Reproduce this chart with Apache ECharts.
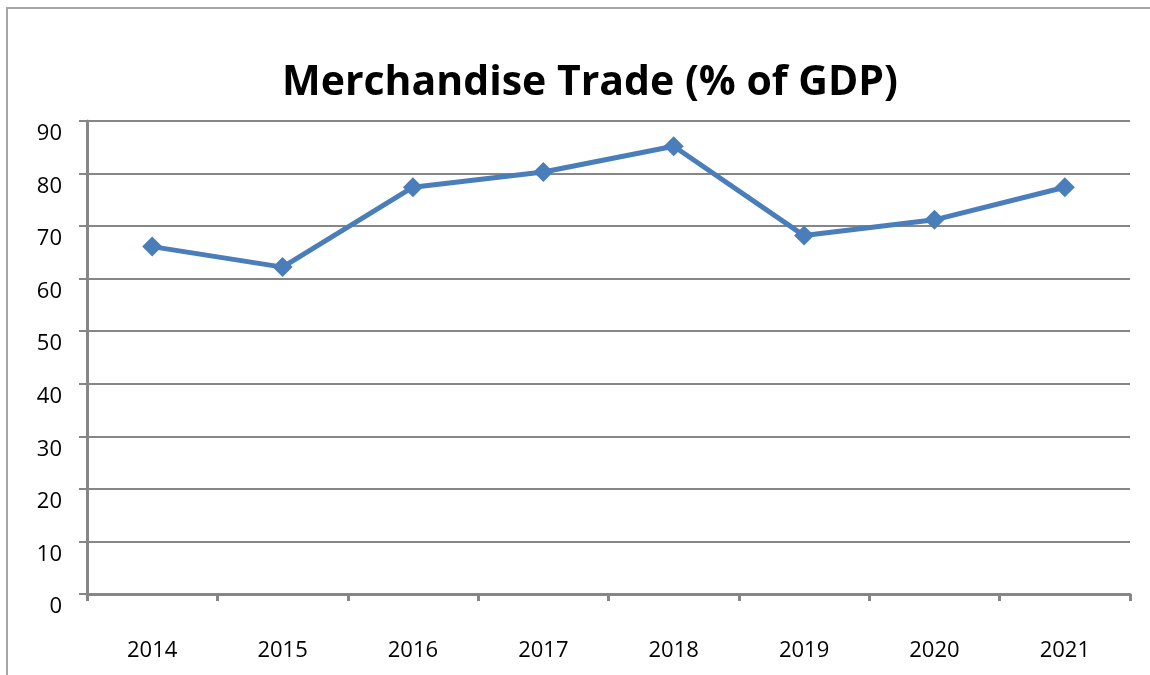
<!DOCTYPE html>
<html>
<head>
<meta charset="utf-8">
<title>Merchandise Trade (% of GDP)</title>
<script src="https://cdn.jsdelivr.net/npm/echarts@6/dist/echarts.min.js"></script>
<style>
  html, body { margin: 0; padding: 0; background: #ffffff; }
  #chart { width: 1150px; height: 675px; }
</style>
</head>
<body>
<div id="chart"></div>
<script>
// Merchandise trade as a share of GDP, by year
const years = ['2014', '2015', '2016', '2017', '2018', '2019', '2020', '2021'];
const tradeShare = [66.1, 62.2, 77.4, 80.3, 85.2, 68.2, 71.2, 77.4];
const yMin = 0, yMax = 90, yStep = 10;

const grey = '#868686';
const blue = '#4A7EBB';

const chart = echarts.init(document.getElementById('chart'), null, { renderer: 'canvas' });
chart.setOption({
  animation: false,
  backgroundColor: '#ffffff',
  graphic: [{
    type: 'rect',
    shape: { x: 7, y: 8, width: 1200, height: 720 },
    style: { fill: 'none', stroke: '#a6a6a6', lineWidth: 2 },
    silent: true
  }],
  title: {
    text: 'Merchandise Trade (% of GDP)',
    left: 585,
    textAlign: 'center',
    top: 58,
    textStyle: { fontFamily: 'Open Sans', fontWeight: 'bold', fontSize: 41, color: '#000000' }
  },
  grid: { left: 87, right: 20, top: 121, bottom: 81, containLabel: false },
  xAxis: {
    type: 'category',
    data: years,
    boundaryGap: true,
    axisLine: { show: true, lineStyle: { color: grey, width: 3 } },
    axisTick: { show: true, alignWithLabel: false, length: 7, lineStyle: { color: grey, width: 3 } },
    axisLabel: { margin: 46, fontFamily: 'Open Sans', fontSize: 22, color: '#000000' },
    splitLine: { show: false }
  },
  yAxis: {
    type: 'value',
    min: yMin,
    max: yMax,
    interval: yStep,
    axisLine: { show: true, lineStyle: { color: grey, width: 3 } },
    axisTick: { show: true, length: 8, lineStyle: { color: grey, width: 2 } },
    axisLabel: {
      margin: 25, fontFamily: 'Open Sans', fontSize: 22, color: '#000000',
      verticalAlign: 'top', padding: [2, 0, 0, 0]
    },
    splitLine: { show: true, lineStyle: { color: grey, width: 2 } }
  },
  series: [{
    type: 'line',
    data: tradeShare,
    symbol: 'diamond',
    symbolSize: 20,
    lineStyle: { color: blue, width: 5 },
    itemStyle: { color: blue },
    z: 5
  }]
});
</script>
</body>
</html>
